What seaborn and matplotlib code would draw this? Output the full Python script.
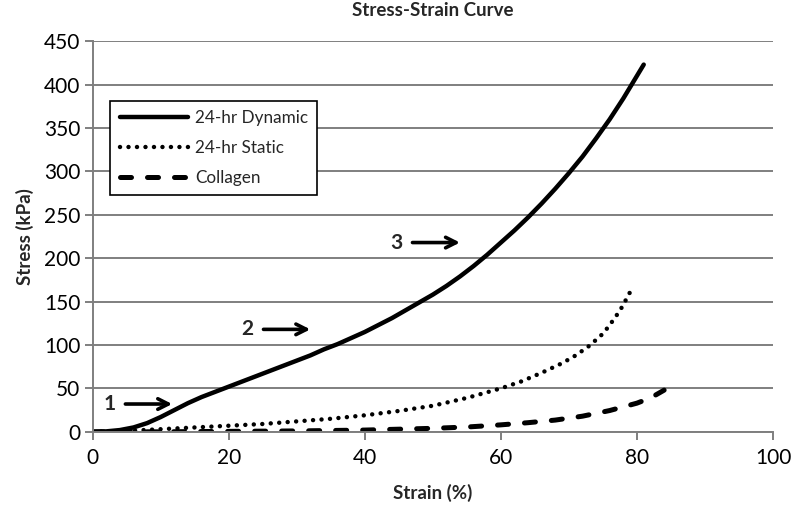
import numpy as np
import pandas as pd
import matplotlib
matplotlib.use("Agg")
import matplotlib.pyplot as plt
import seaborn as sns

# values
dyn_strain = [0, 2, 4, 6, 8, 10, 12, 14, 16, 18, 20, 22, 24, 26, 28, 30, 32, 34, 36, 38, 40,
              42, 44, 46, 48, 50, 52, 54, 56, 58, 60, 62, 64, 66, 68, 70, 72, 74, 76, 78, 80, 81]
dyn_stress = [0, 0.5, 2, 5, 10, 17, 25, 33, 40, 46, 52, 58, 64, 70, 76, 82, 88, 95, 101, 108, 115,
              123, 131, 140, 149, 158, 168, 179, 191, 204, 218, 232, 247, 263, 280, 298, 317, 338,
              360, 384, 410, 423]

sta_strain = [0, 5, 10, 15, 20, 25, 30, 35, 40, 45, 50, 55, 60, 63, 66, 69, 71, 73, 75, 76, 77,
              78, 78.5, 79]
sta_stress = [0, 1, 3, 5, 7, 9, 12, 15, 19, 24, 30, 39, 50, 58, 68, 79, 88, 99, 113, 123, 134,
              146, 154, 161]

col_strain = [0, 10, 20, 30, 40, 50, 55, 60, 64, 68, 72, 76, 80, 82, 84]
col_stress = [0, 0, 0.5, 1, 2, 4, 5.5, 8, 10.5, 13.5, 18, 24.5, 33, 39, 48]

series_names = ["24-hr Dynamic", "24-hr Static", "Collagen"]
arrow_labels = ["1", "2", "3"]
arrow_y = [32, 118, 218]
arrow_x0 = [4.4, 24.7, 46.6]
arrow_x1 = [12.1, 32.4, 54.4]
label_x = [2.5, 22.8, 44.7]

sns.set_style("white")
plt.rcParams["font.family"] = ["Lato", "DejaVu Sans"]

fig = plt.figure(figsize=(7.92, 5.08), dpi=100)
ax = fig.add_axes([0.117, 0.150, 0.859, 0.769])

sns.lineplot(x=dyn_strain, y=dyn_stress, ax=ax, color="black", lw=3.2,
             sort=False, label=series_names[0], solid_capstyle="round")
sns.lineplot(x=sta_strain, y=sta_stress, ax=ax, color="black", lw=3.2,
             sort=False, label=series_names[1], linestyle=(0, (0.01, 1.9)),
             dash_capstyle="round")
sns.lineplot(x=col_strain, y=col_stress, ax=ax, color="black", lw=3.6,
             sort=False, label=series_names[2], linestyle=(0, (2.2, 3.2)),
             dash_capstyle="round")

ax.set_xlim(0, 100)
ax.set_ylim(0, 450)
ax.set_xticks(range(0, 101, 20))
ax.set_yticks(range(0, 451, 50))
ax.yaxis.grid(True, color="#7f7f7f", lw=1.4)
ax.xaxis.grid(False)
ax.set_axisbelow(True)
for s in ["top", "right"]:
    ax.spines[s].set_visible(False)
for s in ["left", "bottom"]:
    ax.spines[s].set_color("#7f7f7f")
    ax.spines[s].set_linewidth(1.4)
ax.tick_params(axis="both", direction="out", length=6, width=1.4,
               color="#7f7f7f", labelsize=15, labelcolor="black")
ax.tick_params(axis="x", pad=6)
ax.tick_params(axis="y", pad=3)
ax.tick_params(left=True, bottom=True)

ax.set_xlabel("Strain (%)", fontsize=13.5, fontweight="bold", labelpad=11)
ax.set_ylabel("Stress (kPa)", fontsize=13.5, fontweight="bold", labelpad=7)
fig.suptitle("Stress-Strain Curve", fontsize=13.5, fontweight="bold", x=0.547, y=0.997)

# numbered arrows
for lab, y, x0, x1, lx in zip(arrow_labels, arrow_y, arrow_x0, arrow_x1, label_x):
    ax.annotate("", xy=(x1, y), xytext=(x0, y),
                arrowprops=dict(arrowstyle="->,head_length=0.75,head_width=0.38",
                                lw=2.6, color="black"))
    ax.text(lx, y, lab, fontsize=15, fontweight="bold", ha="center", va="center")

leg = ax.legend(loc="upper left", bbox_to_anchor=(0.026, 0.847), fontsize=12.3,
                frameon=True, fancybox=False, handlelength=4.0, handletextpad=0.4,
                borderpad=0.55, labelspacing=0.8, borderaxespad=0)
leg.get_frame().set_edgecolor("black")
leg.get_frame().set_linewidth(1.2)
leg.get_frame().set_alpha(1)

fig.savefig("out.png", dpi=100)
